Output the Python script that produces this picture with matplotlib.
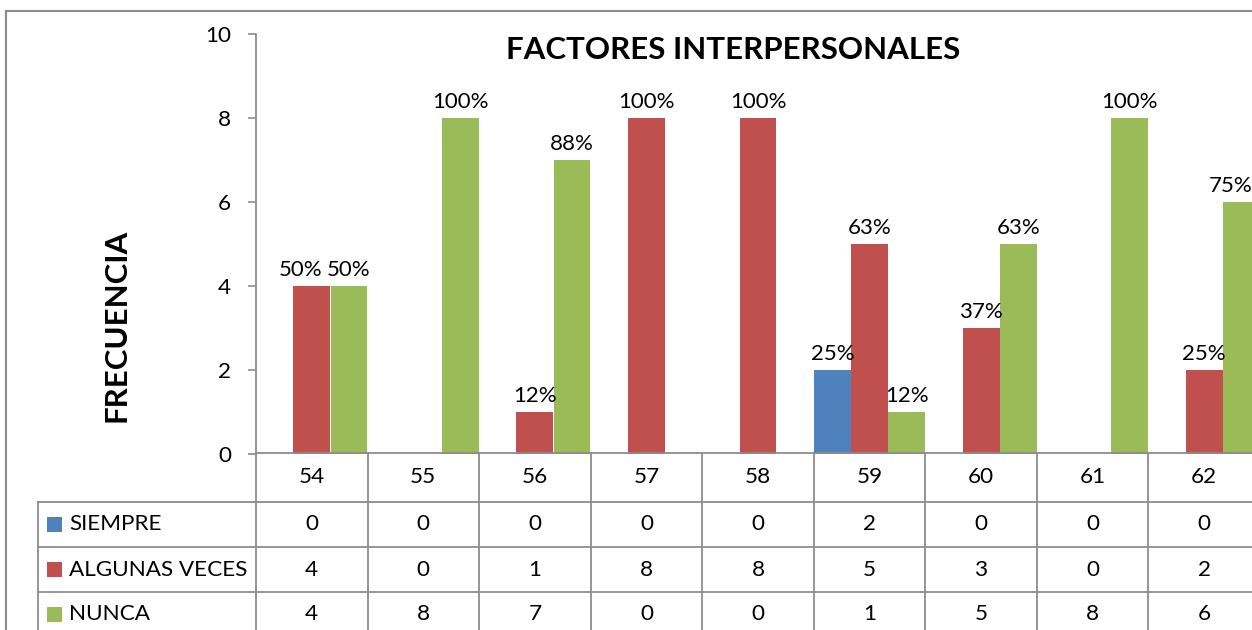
import matplotlib.pyplot as plt
import matplotlib.transforms as mtransforms
from matplotlib.lines import Line2D
from matplotlib.patches import Rectangle

categorias = ["54", "55", "56", "57", "58", "59", "60", "61", "62"]
siempre = [0, 0, 0, 0, 0, 2, 0, 0, 0]
algunas_veces = [4, 0, 1, 8, 8, 5, 3, 0, 2]
nunca = [4, 8, 7, 0, 0, 1, 5, 8, 6]
pct_siempre = ["", "", "", "", "", "25%", "", "", ""]
pct_algunas = ["50%", "", "12%", "100%", "100%", "63%", "37%", "", "25%"]
pct_nunca = ["50%", "100%", "88%", "", "", "12%", "63%", "100%", "75%"]
series_names = ["SIEMPRE", "ALGUNAS VECES", "NUNCA"]
colores = ["#4F81BD", "#C0504D", "#9BBB59"]

plt.rcParams["font.family"] = ["Lato", "DejaVu Sans"]
W, H = 1252, 630
gris = "#8c8c8c"
fs = 16.2

fig = plt.figure(figsize=(W / 100, H / 100), dpi=100)
ax = fig.add_axes([256 / W, 176 / H, 1004 / W, 420 / H])

series = [siempre, algunas_veces, nunca]
etiquetas = [pct_siempre, pct_algunas, pct_nunca]
ancho = 0.33
offsets = [-1 / 3, 0, 1 / 3]
x = list(range(len(categorias)))

for s_idx, (vals, labs, col, off) in enumerate(zip(series, etiquetas, colores, offsets)):
    xs = [i + off for i in x]
    ax.bar(xs, vals, width=ancho, color=col, zorder=2)
    for k, (xi, v, lab) in enumerate(zip(xs, vals, labs)):
        if not lab:
            continue
        dx = 0
        # como en Excel: etiquetas desplazadas para no chocar o salirse
        if k == len(categorias) - 1 and off > 0:
            dx = -8
        if k == 0 and s_idx == 1:
            dx = -8
        ax.annotate(lab, (xi, v), xytext=(dx, 4), textcoords="offset points",
                    ha="center", va="bottom", fontsize=16)

ax.set_xlim(-0.5, len(categorias) - 0.5)
ax.set_ylim(0, 10)
ax.set_yticks(range(0, 11, 2))
ax.tick_params(axis="y", length=6, width=1.2, color=gris, labelsize=fs, pad=12)
ax.set_xticks([])
for s in ["top", "right", "bottom"]:
    ax.spines[s].set_visible(False)
ax.spines["left"].set_color(gris)
ax.spines["left"].set_linewidth(1.3)

fig.text(733 / W, 1 - 50 / H, "FACTORES INTERPERSONALES", ha="center", va="center",
         fontsize=22.5, fontweight="bold")
fig.text(117 / W, 1 - 325 / H, "FRECUENCIA", ha="center", va="center",
         rotation=90, fontsize=22.5, fontweight="bold")

# marco exterior
fig.add_artist(Line2D([6 / W, 6 / W], [0, 1 - 11 / H], color=gris, lw=1.5))
fig.add_artist(Line2D([6 / W, 1], [1 - 11 / H, 1 - 11 / H], color=gris, lw=1.5))

# tabla de datos
tr = mtransforms.blended_transform_factory(ax.transData, fig.transFigure)
filas_y = [453, 502, 547, 592, 637]
for yl in filas_y:
    x0 = 38 / W if yl > 453 else 256 / W
    fig.add_artist(Line2D([x0, 1], [1 - yl / H, 1 - yl / H], color=gris, lw=1.3))
for i in range(len(categorias) + 1):
    ax.add_line(Line2D([i - 0.5, i - 0.5], [1 - 453 / H, 0], color=gris, lw=1.3,
                       transform=tr, clip_on=False))
fig.add_artist(Line2D([38 / W, 38 / W], [1 - 502 / H, 0], color=gris, lw=1.3))

for i, c in enumerate(categorias):
    ax.text(i, 1 - 477 / H, c, transform=tr, ha="center", va="center", fontsize=fs)
for r, (nombre, vals, col) in enumerate(zip(series_names, series, colores)):
    yc = (filas_y[r + 1] + filas_y[r + 2]) / 2
    fig.add_artist(Rectangle((47 / W, 1 - (yc + 7.5) / H), 15 / W, 15 / H,
                             facecolor=col, edgecolor="none"))
    fig.text(69 / W, 1 - yc / H, nombre, ha="left", va="center", fontsize=fs)
    for i, v in enumerate(vals):
        ax.text(i, 1 - yc / H, str(v), transform=tr, ha="center", va="center", fontsize=fs)

fig.savefig("out.png", dpi=100)
